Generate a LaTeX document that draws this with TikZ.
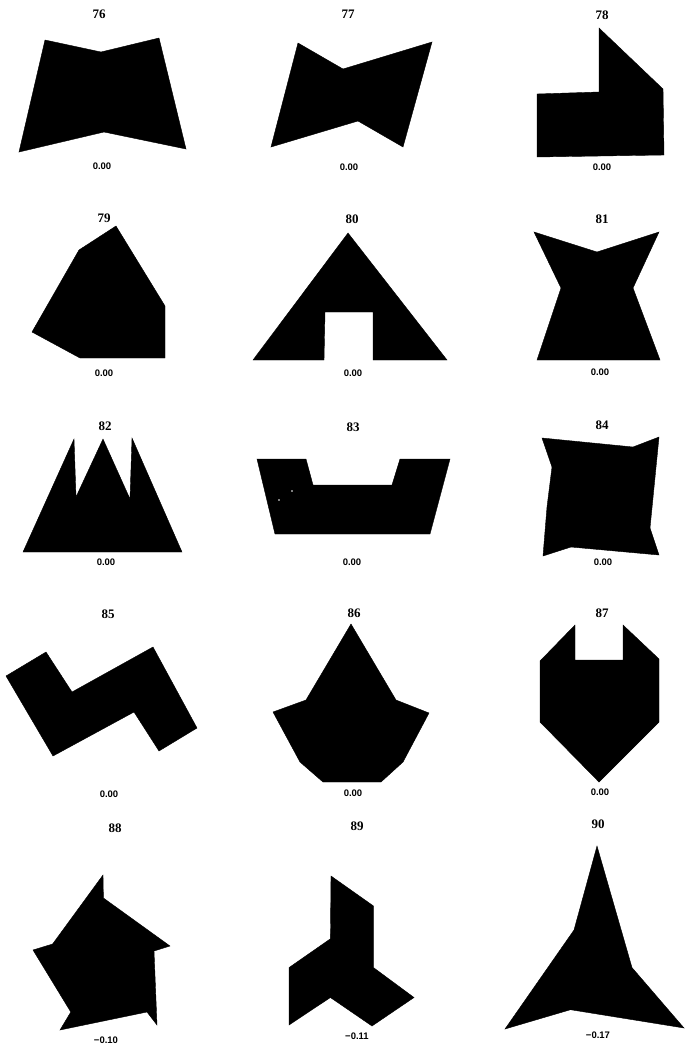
\documentclass[tikz,border=0pt]{standalone}
\usepackage{fontspec}
\setmainfont{Liberation Serif}
\newfontfamily\valfont{Liberation Sans}
\begin{document}
\begin{tikzpicture}[x=1pt,y=-1pt,
  blob/.style={fill=black,draw=black,line width=0.4pt,line join=miter},
  title/.style={font=\fontsize{13}{13}\selectfont\bfseries,inner sep=0pt},
  val/.style={font=\valfont\bfseries\fontsize{9.5}{9.5}\selectfont,inner sep=0pt}]
\useasboundingbox[fill=white] (0,0) rectangle (692,1047);
% 76
\node[title] (t76) at (99,14) {76};
\fill[blob] (45,40) -- (101,52) -- (159,38) -- (186,149) -- (104,132) -- (19,152) -- cycle;
\node[val] (v76) at (102,166) {0.00};
% 77
\node[title] (t77) at (348,14) {77};
\fill[blob] (298,43) -- (343,69) -- (432,42) -- (403,147) -- (358,121) -- (271,147) -- cycle;
\node[val] (v77) at (349,167) {0.00};
% 78
\node[title] (t78) at (602,15) {78};
\fill[blob] (599,28) -- (663,89) -- (664,155) -- (537,157) -- (537,94) -- (599,92) -- cycle;
\node[val] (v78) at (602,167) {0.00};
% 79
\node[title] (t79) at (104,218) {79};
\fill[blob] (116,226) -- (165,306) -- (165,358) -- (80,358) -- (32,332) -- (79,250) -- cycle;
\node[val] (v79) at (104,373) {0.00};
% 80
\node[title] (t80) at (352,219) {80};
\fill[blob] (348,233) -- (447,360) -- (373,360) -- (373,312) -- (325,312) -- (324,360) -- (253,360) -- cycle;
\node[val] (v80) at (353,373) {0.00};
% 81
\node[title] (t81) at (602,219) {81};
\fill[blob] (534,232) -- (597,252) -- (659,232) -- (633,288) -- (660,360) -- (537,360) -- (561,288) -- cycle;
\node[val] (v81) at (600,372) {0.00};
% 82
\node[title] (t82) at (105,426) {82};
\fill[blob] (23,552) -- (74,439) -- (76,497) -- (103,439) -- (130,499) -- (132,438) -- (182,552) -- cycle;
\node[val] (v82) at (106,562) {0.00};
% 83
\node[title] (t83) at (353,427) {83};
\fill[blob] (257,459) -- (306,459) -- (313,485) -- (392,485) -- (400,459) -- (450,459) -- (430,534) -- (275,534) -- cycle;
\fill[white] (292,491) circle (0.9) (279,500) circle (0.9);
\node[val] (v83) at (352,562) {0.00};
% 84
\node[title] (t84) at (602,425) {84};
\fill[blob] (542,438) -- (633,447) -- (659,437) -- (650,528) -- (659,555) -- (571,547) -- (543,556) -- (547,507) -- (552,467) -- cycle;
\node[val] (v84) at (603,562) {0.00};
% 85
\node[title] (t85) at (108,614) {85};
\fill[blob] (6,676) -- (46,652) -- (72,692) -- (153,647) -- (197,728) -- (159,751) -- (134,712) -- (53,756) -- cycle;
\node[val] (v85) at (109,794) {0.00};
% 86
\node[title] (t86) at (354,613) {86};
\fill[blob] (351,624) -- (396,700) -- (429,713) -- (403,762) -- (381,782) -- (323,782) -- (300,762) -- (273,712) -- (306,700) -- cycle;
\node[val] (v86) at (353,793) {0.00};
% 87
\node[title] (t87) at (602,613) {87};
\fill[blob] (575,625) -- (575,660) -- (623,660) -- (623,625) -- (659,659) -- (659,722) -- (599,782) -- (540,722) -- (540,661) -- cycle;
\node[val] (v87) at (600,792) {0.00};
% 88
\node[title] (t88) at (115,828) {88};
\fill[blob] (103,875) -- (103.4,898) -- (170,946) -- (154,951) -- (157,1025) -- (147,1012) -- (60,1030) -- (70.8,1012) -- (33,950) -- (52.6,944) -- cycle;
\node[val] (v88) at (106,1040) {−0.10};
% 89
\node[title] (t89) at (357,826) {89};
\fill[blob] (331,876) -- (373.5,906) -- (373.5,967.6) -- (414,997.5) -- (372,1026) -- (330.4,997.5) -- (289,1025) -- (289,967.6) -- (330.4,938.8) -- cycle;
\node[val] (v89) at (357,1036.5) {−0.11};
% 90
\node[title] (t90) at (598,824) {90};
\fill[blob] (597,846) -- (632,967.6) -- (684,1028) -- (570.5,1009.7) -- (505,1029) -- (574,930) -- cycle;
\node[val] (v90) at (598,1035) {−0.17};
\end{tikzpicture}
\end{document}
